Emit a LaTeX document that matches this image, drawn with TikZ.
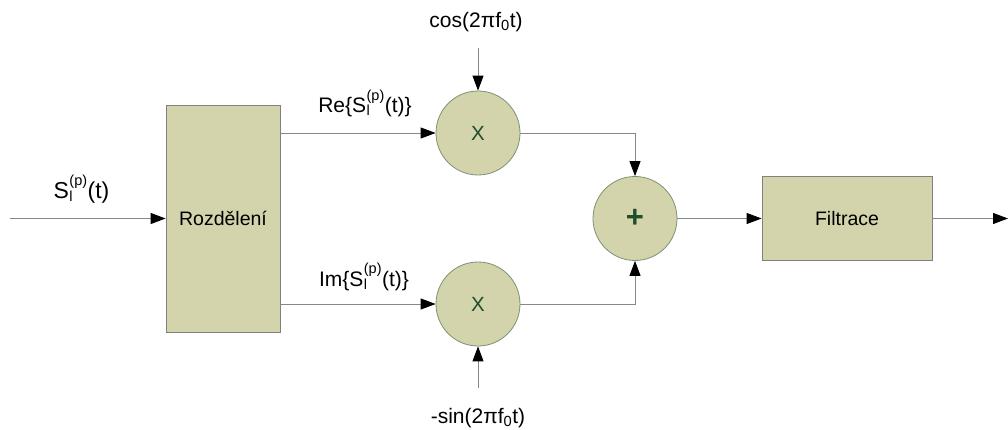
\documentclass[tikz,border=0pt]{standalone}
\usepackage{fontspec}
\setmainfont{Liberation Sans}
\usetikzlibrary{arrows.meta}
\definecolor{boxfill}{RGB}{211,212,172}
\definecolor{boxline}{RGB}{128,128,128}
\definecolor{circline}{RGB}{125,145,115}
\definecolor{wire}{RGB}{135,135,135}
\definecolor{opgreen}{RGB}{30,78,44}
\newcommand\mysupsub[2]{\kern0.5pt\makebox[0pt][l]{\raisebox{-0.12em}{\fontsize{14.5}{15}\selectfont #1}}\raisebox{0.6em}{\fontsize{14.5}{15}\selectfont #2}\kern0.5pt}
\begin{document}
\begin{tikzpicture}[x=1pt,y=-1pt,
  blockbox/.style={draw=boxline, fill=boxfill, line width=0.8pt, inner sep=0pt,
    font=\fontsize{19.5}{23}\selectfont},
  opcircle/.style={circle, draw=circline, fill=boxfill, line width=0.8pt,
    minimum size=84pt, inner sep=0pt, text=opgreen},
  sig/.style={draw=wire, line width=0.9pt,
    -{Triangle[length=15pt,width=11pt,color=black]}},
  lbl/.style={anchor=base, inner sep=0pt, font=\fontsize{21}{24}\selectfont}
]
\useasboundingbox (0,0) rectangle (1008,430);

% blocks
\node[blockbox, minimum width=114pt, minimum height=227pt] (split) at (223,218.5) {Rozdělení};
\node[blockbox, minimum width=170pt, minimum height=84pt] (filt) at (847,218.5) {Filtrace};
\node[opcircle, font=\fontsize{20.5}{22}\selectfont] (mulT) at (478,133) {X};
\node[opcircle, font=\fontsize{20.5}{22}\selectfont] (mulB) at (478,304) {X};
\node[opcircle, font=\fontsize{31}{33}\selectfont\bfseries] (sum) at (635,218.5) {+};

% free ends
\coordinate (in) at (10,218.5);
\coordinate (out) at (1008,218.5);
\coordinate (cosin) at (478,48);
\coordinate (sinin) at (478,388);

% labels
\node[lbl, font=\fontsize{23}{26}\selectfont] (lin) at (81.5,199) {S\mysupsub{l}{(p)}(t)};
\node[lbl] (lre) at (365,113) {Re\{S\mysupsub{l}{(p)}(t)\}};
\node[lbl] (lim) at (364,286.5) {Im\{S\mysupsub{l}{(p)}(t)\}};
\node[lbl] (lcos) at (476,27.5) {cos(2πf\textsubscript{0}t)};
\node[lbl] (lsin) at (478,423.5) {-sin(2πf\textsubscript{0}t)};

% connectors
\draw[sig] (in) -- (split.west);
\draw[sig] (split.east |- mulT.west) -- (mulT.west);
\draw[sig] (split.east |- mulB.west) -- (mulB.west);
\draw[sig] (cosin) -- (mulT.north);
\draw[sig] (sinin) -- (mulB.south);
\draw[sig] (mulT.east) -| (sum.north);
\draw[sig] (mulB.east) -| (sum.south);
\draw[sig] (sum.east) -- (filt.west);
\draw[sig] (filt.east) -- (out);
\end{tikzpicture}
\end{document}
